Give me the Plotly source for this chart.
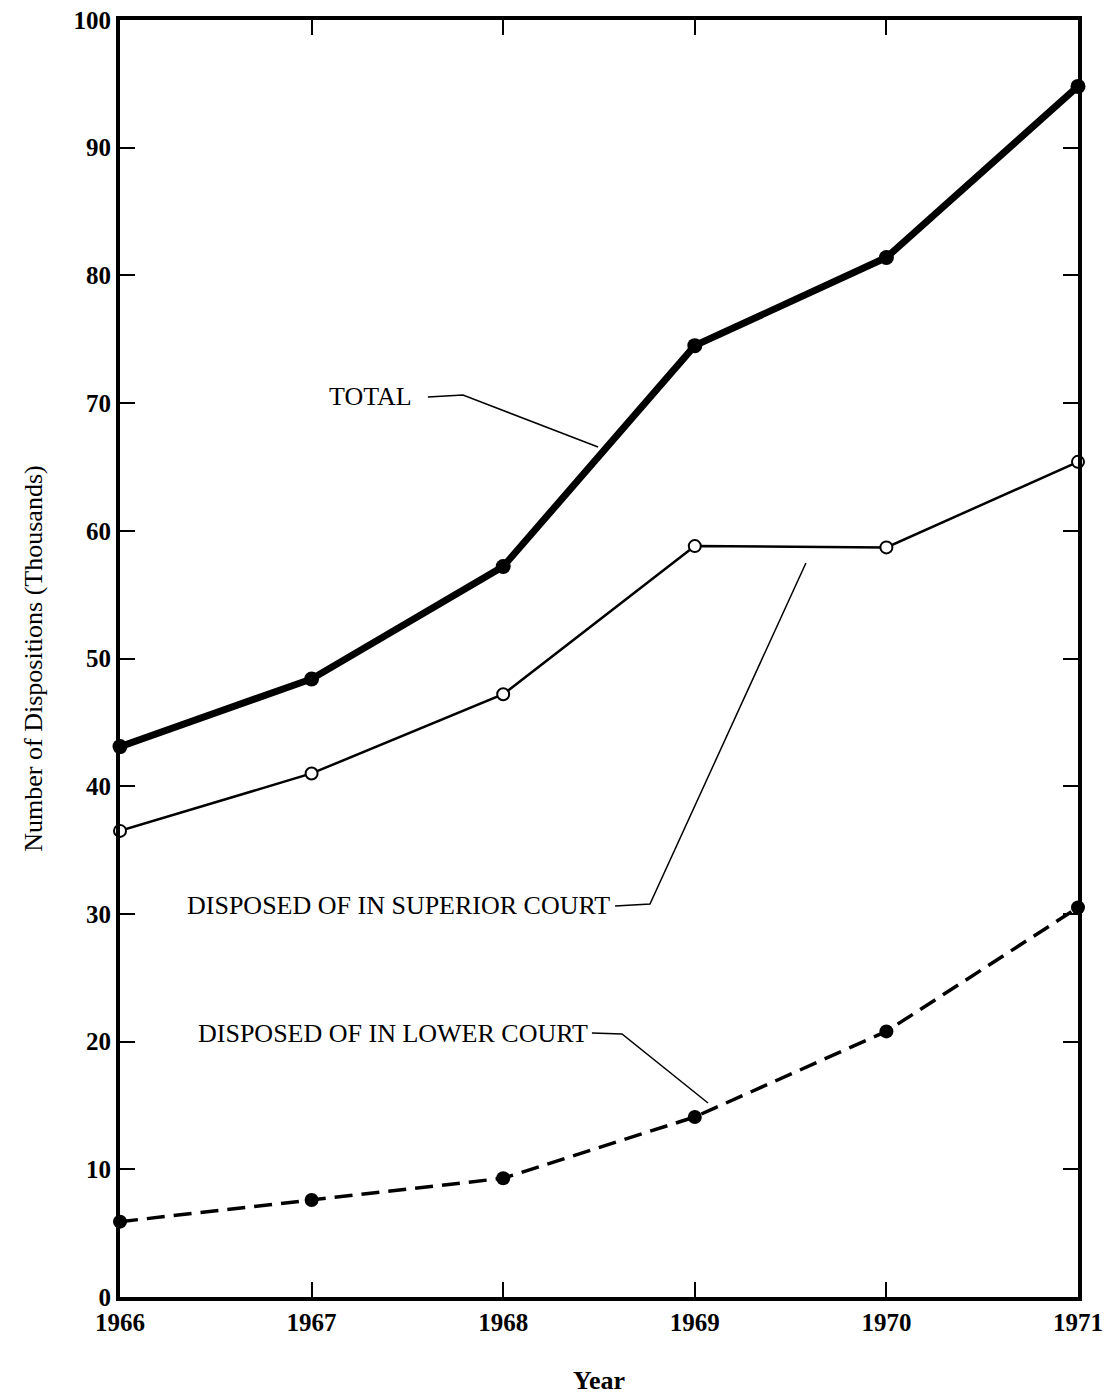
import plotly.graph_objects as go

years = [1966, 1967, 1968, 1969, 1970, 1971]
total = [43.1, 48.4, 57.2, 74.5, 81.4, 94.8]
superior = [36.5, 41.0, 47.2, 58.8, 58.7, 65.4]
lower = [5.9, 7.6, 9.3, 14.1, 20.8, 30.5]
y_ticks = [0, 10, 20, 30, 40, 50, 60, 70, 80, 90, 100]

FONT = "Liberation Serif"

fig = go.Figure()
fig.add_trace(go.Scatter(x=years, y=total, mode="lines+markers",
                         line=dict(color="black", width=7),
                         marker=dict(color="black", size=15), cliponaxis=False))
fig.add_trace(go.Scatter(x=years, y=superior, mode="lines+markers",
                         line=dict(color="black", width=2.5),
                         marker=dict(color="white", size=12, line=dict(color="black", width=2)),
                         cliponaxis=False))
fig.add_trace(go.Scatter(x=years, y=lower, mode="lines+markers",
                         line=dict(color="black", width=3.5, dash="18px,9px"),
                         marker=dict(color="black", size=14), cliponaxis=False))

labels = [
    ("TOTAL", 1967.305, 70.5, [(1967.607, 70.48), (1967.79, 70.63), (1968.495, 66.56)]),
    ("DISPOSED OF IN SUPERIOR COURT", 1967.451, 30.62, [(1968.584, 30.62), (1968.766, 30.78), (1969.58, 57.48)]),
    ("DISPOSED OF IN LOWER COURT", 1967.425, 20.67, [(1968.463, 20.67), (1968.62, 20.6), (1969.069, 15.19)]),
]
for text, tx, ty, pts in labels:
    fig.add_annotation(x=tx, y=ty, text=text, showarrow=False,
                       font=dict(family=FONT, size=26, color="black"))
    path = "M " + " L ".join(f"{px},{py}" for px, py in pts)
    fig.add_shape(type="path", path=path, xref="x", yref="y",
                  line=dict(color="black", width=1.5))

fig.update_layout(
    width=1109, height=1395,
    margin=dict(l=120, r=31, t=20, b=98),
    paper_bgcolor="white", plot_bgcolor="white",
    showlegend=False,
    font=dict(family=FONT, size=24, color="black"),
)
fig.update_xaxes(range=[1966, 1971], tickvals=years, ticktext=[f"<b>{y}</b>" for y in years],
                 ticks="inside", ticklen=15, tickwidth=2, tickcolor="black",
                 showline=True, linewidth=4, linecolor="black", mirror="ticks",
                 showgrid=False, zeroline=False, automargin=False, ticklabeloverflow="allow",
                 tickfont=dict(family=FONT, size=25, color="black"),
                 title=dict(text="<b>Year</b>", font=dict(family=FONT, size=26), standoff=45))
fig.update_yaxes(range=[0, 100], tickvals=y_ticks, ticktext=[f"<b>{v}</b>" for v in y_ticks],
                 ticks="inside", ticklen=15, tickwidth=2, tickcolor="black",
                 showline=True, linewidth=4, linecolor="black", mirror="ticks",
                 showgrid=False, zeroline=False, automargin=False, ticklabeloverflow="allow",
                 tickfont=dict(family=FONT, size=25, color="black"),
                 title=dict(text="Number of Dispositions (Thousands)", font=dict(family=FONT, size=26), standoff=24))

fig.write_html("out.html", config={"displayModeBar": False},
               post_script="document.body.style.margin='0px';")
